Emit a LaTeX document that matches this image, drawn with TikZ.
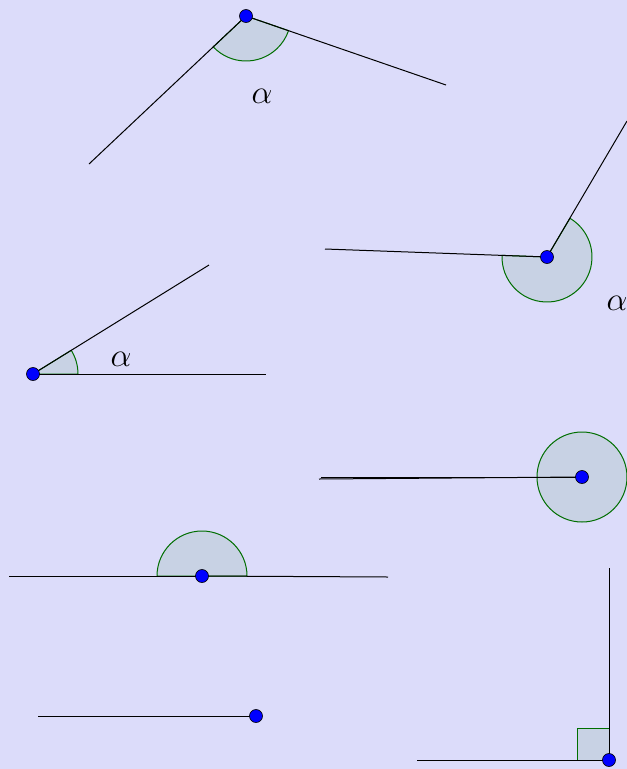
\documentclass[tikz,border=0pt]{standalone}
\usepackage{tikz}
\definecolor{bgc}{RGB}{220,220,250}
\definecolor{secfill}{RGB}{200,210,228}
\definecolor{secline}{RGB}{0,110,0}
\newcommand{\mysector}[3]{%
  \filldraw[sector] (#1) -- ++(-#2:45) arc[start angle=-#2,end angle=-#3,radius=45] -- cycle;}
\begin{document}
\begin{tikzpicture}[x=0.75pt,y=-0.75pt,
  ray/.style={black,line width=0.75pt},
  sector/.style={fill=secfill,draw=secline,line width=0.75pt},
  vdot/.style={circle,fill=blue,draw=black,line width=0.5pt,inner sep=0pt,minimum size=9.75pt},
  lbl/.style={font=\fontsize{23}{26}\selectfont}]
\fill[bgc] (0,0) rectangle (627,769);
\useasboundingbox (0,0) rectangle (627,769);
% angle 1 (obtuse)
\coordinate (A1) at (246,16);
\coordinate (A1a) at (89,164);
\coordinate (A1b) at (446,85);
\mysector{A1}{223.3}{341}
\draw[ray] (A1) -- (A1a);
\draw[ray] (A1) -- (A1b);
\node[vdot] (V1) at (A1) {};
\node[lbl] (L1) at (262,96) {$\alpha$};
% angle 2 (reflex)
\coordinate (A2) at (547,257);
\coordinate (A2a) at (325,249);
\coordinate (A2b) at (627,121);
\mysector{A2}{177.9}{419.3}
\draw[ray] (A2) -- (A2a);
\draw[ray] (A2) -- (A2b);
\node[vdot] (V2) at (A2) {};
\node[lbl] (L2) at (617,303) {$\alpha$};
% angle 3 (acute)
\coordinate (A3) at (33,374);
\coordinate (A3a) at (266,374);
\coordinate (A3b) at (209,265);
\mysector{A3}{0}{31.8}
\draw[ray] (A3) -- (A3a);
\draw[ray] (A3) -- (A3b);
\node[vdot] (V3) at (A3) {};
\node[lbl] (L3) at (121,359) {$\alpha$};
% angle 4 (full)
\coordinate (A4) at (582,477);
\coordinate (A4a) at (319,479);
\coordinate (A4b) at (321,477);
\filldraw[sector] (A4) circle[radius=45];
\draw[ray] (A4) -- (A4a);
\draw[ray] (A4) -- (A4b);
\node[vdot] (V4) at (A4) {};
% angle 5 (straight)
\coordinate (A5) at (202,576);
\coordinate (A5a) at (9,576);
\coordinate (A5b) at (388,577);
\mysector{A5}{0}{180}
\draw[ray] (A5) -- (A5a);
\draw[ray] (A5) -- (A5b);
\node[vdot] (V5) at (A5) {};
% angle 6 (zero)
\coordinate (A6) at (256,716);
\coordinate (A6a) at (38,716);
\coordinate (A6b) at (212,716);
\draw[ray] (A6) -- (A6a);
\draw[ray] (A6) -- (A6b);
\node[vdot] (V6) at (A6) {};
% angle 7 (right)
\coordinate (A7) at (609,760);
\coordinate (A7a) at (609,568);
\coordinate (A7b) at (417,760);
\filldraw[sector] (A7) rectangle ++(-32,-32);
\draw[ray] (A7) -- (A7a);
\draw[ray] (A7) -- (A7b);
\node[vdot] (V7) at (A7) {};
\end{tikzpicture}
\end{document}
